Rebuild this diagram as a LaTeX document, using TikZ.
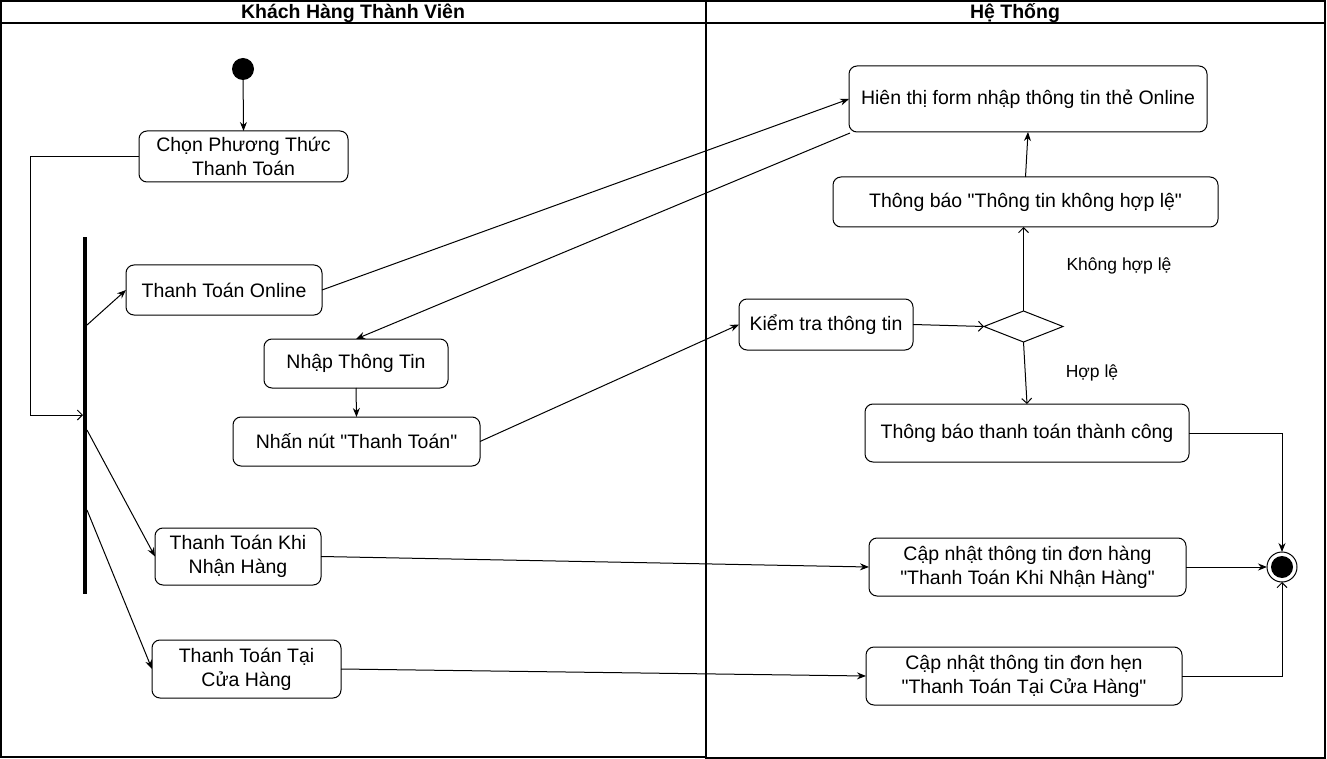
\documentclass[tikz,border=0pt]{standalone}
\usepackage{fontspec}
\setmainfont{Liberation Sans}[Ligatures=TeXOff]
\usetikzlibrary{arrows.meta,shapes.geometric,calc}
\newcommand{\dq}{\symbol{34}}
\begin{document}
\begin{tikzpicture}[x=1pt,y=-1pt,
  every node/.style={inner sep=0pt,outer sep=0pt},
  act/.style={draw,rounded corners=8pt,line width=1pt,align=center,font=\fontsize{19.5}{24}\selectfont},
  lbl/.style={font=\fontsize{17.5}{21}\selectfont},
  hdr/.style={font=\bfseries\fontsize{19.5}{23}\selectfont},
  ln/.style={line width=1pt},
  fa/.style={ln,-{Stealth[length=9pt,width=7pt]}},
  oa/.style={ln,-{Straight Barb[length=5pt,width=10pt]}}]
\useasboundingbox (0,0) rectangle (1327,759);
% swimlanes
\draw[line width=1.3pt] (1,1) rectangle (706,757);
\draw[line width=1.3pt] (1,23) -- (706,23);
\draw[line width=1.3pt] (706,1) rectangle (1325,758);
\draw[line width=1.3pt] (706,23) -- (1325,23);
\node[hdr] (h1) at (353,13) {Khách Hàng Thành Viên};
\node[hdr] (h2) at (1015,13) {Hệ Thống};
% nodes
\node[circle,fill=black,minimum size=22pt] (start) at (243,69) {};
\node[act,minimum width=209pt,minimum height=51pt] (chon) at (243.5,156.5) {Chọn Phương Thức\\Thanh Toán};
\node[fill=black,minimum width=4pt,minimum height=357pt] (fork) at (85,415.5) {};
\node[act,minimum width=196pt,minimum height=50pt] (online) at (224,290) {Thanh Toán Online};
\node[act,minimum width=184pt,minimum height=49pt] (nhap) at (356,363.5) {Nhập Thông Tin};
\node[act,minimum width=247pt,minimum height=49pt] (nhan) at (356.5,441.5) {Nhấn nút \dq Thanh Toán\dq};
\node[act,minimum width=166pt,minimum height=57pt] (khi) at (238,556.5) {Thanh Toán Khi\\Nhận Hàng};
\node[act,minimum width=189pt,minimum height=58pt] (tai) at (246.5,669) {Thanh Toán Tại\\Cửa Hàng};
\node[act,minimum width=358pt,minimum height=66pt] (hien) at (1028,99) {Hiên thị form nhập thông tin thẻ Online};
\node[act,minimum width=385pt,minimum height=50pt] (tbk) at (1025.5,202) {Thông báo \dq Thông tin không hợp lệ\dq};
\node[act,minimum width=174pt,minimum height=51pt] (kiem) at (826,324.5) {Kiểm tra thông tin};
\node[diamond,draw,line width=1pt,minimum width=79pt,minimum height=31pt,aspect=2.5] (dec) at (1023.5,326.5) {};
\node[act,minimum width=324pt,minimum height=58pt] (tbtc) at (1027,433) {Thông báo thanh toán thành công};
\node[act,minimum width=317pt,minimum height=58pt] (cn1) at (1027.5,567) {Cập nhật thông tin đơn hàng\\\dq Thanh Toán Khi Nhận Hàng\dq};
\node[act,minimum width=316pt,minimum height=58pt] (cn2) at (1024,676) {Cập nhật thông tin đơn hẹn\\\dq Thanh Toán Tại Cửa Hàng\dq};
\node[circle,draw,line width=1pt,minimum size=30pt] (end) at (1282,567) {};
\node[circle,fill=black,minimum size=22pt] (endin) at (1282,567) {};
\node[lbl] (l1) at (1119,266) {Không hợp lệ};
\node[lbl] (l2) at (1092,373) {Hợp lệ};
% coordinates
\coordinate (c1) at (30,156.5);
\coordinate (c2) at (30,415);
\coordinate (f0) at (83,415);
\coordinate (f1) at (87,325);
\coordinate (f2) at (87,430);
\coordinate (f3) at (87,510);
% edges
\draw[fa] (start) -- (chon.north);
\draw[oa] (chon.west) -- (c1) -- (c2) -- (f0);
\draw[fa] (f1) -- (online.west);
\draw[fa] (f2) -- (khi.west);
\draw[fa] (f3) -- (tai.west);
\draw[fa] (online.east) -- (hien.west);
\draw[fa] ([xshift=1pt,yshift=-1pt]hien.south west) -- (nhap.north);
\draw[fa] (nhap.south) -- (nhan.north);
\draw[fa] (nhan.east) -- (kiem.west);
\draw[oa] (kiem.east) -- (dec.west);
\draw[oa] (dec.north) -- (tbk.south -| dec.north);
\draw[oa] (dec.south) -- (tbtc.north);
\draw[fa] (tbk.north) -- (hien.south);
\draw[fa] (khi.east) -- (cn1.west);
\draw[fa] (tai.east) -- (cn2.west);
\draw[fa] (tbtc.east) -- (tbtc.east -| end.north) -- (end.north);
\draw[fa] (cn1.east) -- (end.west);
\draw[oa] (cn2.east) -- (cn2.east -| end.south) -- (end.south);
\end{tikzpicture}
\end{document}
